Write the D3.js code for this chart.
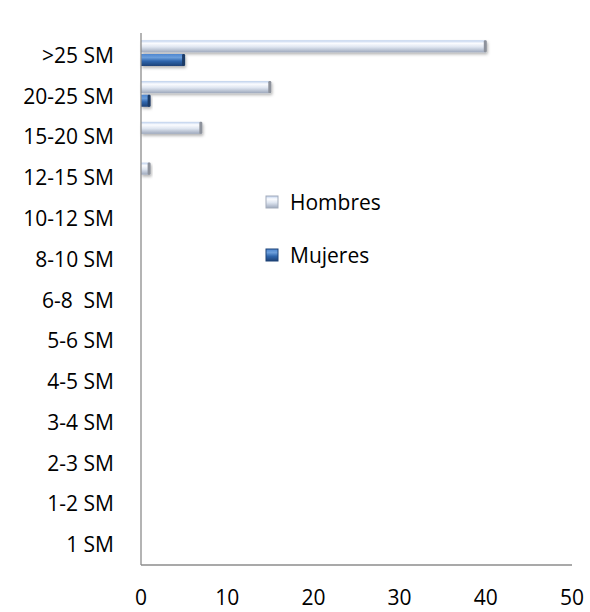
<!DOCTYPE html>
<html>
<head>
<meta charset="utf-8">
<script src="https://cdn.jsdelivr.net/npm/d3@7"></script>
<style>
body{margin:0;background:#fff;}
text{font-family:"Open Sans",sans-serif;fill:#000;}
</style>
</head>
<body>
<svg id="svg" width="590" height="612"></svg>
<script>
var categories=["1 SM","1-2 SM","2-3 SM","3-4 SM","4-5 SM","5-6 SM","6-8  SM","8-10 SM","10-12 SM","12-15 SM","15-20 SM","20-25 SM",">25 SM"];
var hombres=[0,0,0,0,0,0,0,0,0,1,7,15,40];
var mujeres=[0,0,0,0,0,0,0,0,0,0,0,1,5];
var seriesNames=["Hombres","Mujeres"];
var xTicks=[0,10,20,30,40,50];

var marginLeft=141;
var marginTop=35;
var width=572-marginLeft;
var height=565-marginTop;

var root=d3.select("#svg");
var defs=root.append("defs");

//gradients for the bevelled bars
function grad(id,stops){
    var g=defs.append("linearGradient").attr("id",id)
        .attr("x1","0").attr("y1","0").attr("x2","0").attr("y2","1");
    stops.forEach(s=>g.append("stop").attr("offset",s[0]).attr("stop-color",s[1]));
}
grad("gH",[["0%","#bccfec"],["25%","#fbfcff"],["55%","#dfe6f1"],["100%","#9ea9bd"]]);
grad("gM",[["0%","#4d86d0"],["30%","#6c9edb"],["60%","#2f66ad"],["100%","#1d4277"]]);
defs.append("filter").attr("id","shadow")
        .attr("x","-10%").attr("y","-30%").attr("width","130%").attr("height","190%")
    .append("feDropShadow")
        .attr("dx","1").attr("dy","2").attr("stdDeviation","1.5")
        .attr("flood-color","#000").attr("flood-opacity","0.3");

var svg=root.append("g").attr("transform","translate("+marginLeft+","+marginTop+")");

var x=d3.scaleLinear().domain([0,50]).range([0,width]);
var y=d3.scaleBand().domain(categories).range([height,0]);
var ySub=d3.scaleBand().domain(seriesNames)
        .range([y.bandwidth()*0.13,y.bandwidth()*0.76]).paddingInner(0.12);

var rows=categories.map((c,i)=>({cat:c,vals:[{s:"Hombres",v:hombres[i]},{s:"Mujeres",v:mujeres[i]}]}));
var fills={Hombres:"url(#gH)",Mujeres:"url(#gM)"};
var caps={Hombres:"#8d929c",Mujeres:"#1b3a66"};

var groups=svg.selectAll("g.row")
    .data(rows).enter().append("g")
        .attr("class","row")
        .attr("transform",d=>"translate(0,"+y(d.cat)+")");

var bars=groups.selectAll("g.bar")
    .data(d=>d.vals.filter(v=>v.v>0)).enter().append("g")
        .attr("class","bar")
        .attr("filter","url(#shadow)");

bars.append("rect")
        .attr("x",x(0))
        .attr("y",d=>ySub(d.s))
        .attr("width",d=>x(d.v)-x(0))
        .attr("height",ySub.bandwidth())
        .attr("fill",d=>fills[d.s]);

//end face of the 3d bar
bars.append("rect")
        .attr("x",d=>x(d.v)-2)
        .attr("y",d=>ySub(d.s))
        .attr("width",3)
        .attr("height",ySub.bandwidth())
        .attr("rx",1.2)
        .attr("fill",d=>caps[d.s]);

//axes
svg.append("line")
        .attr("x1",x(0)).attr("x2",x(0))
        .attr("y1",-2).attr("y2",height)
        .attr("stroke","#8c8c8c").attr("stroke-width",1.3);
svg.append("line")
        .attr("x1",x(0)).attr("x2",x(50))
        .attr("y1",height).attr("y2",height)
        .attr("stroke","#8c8c8c").attr("stroke-width",1.3);

svg.selectAll("text.cat")
    .data(categories).enter().append("text")
        .attr("class","cat")
        .attr("x",-27)
        .attr("y",d=>y(d)+y.bandwidth()/2)
        .attr("dy","0.36em")
        .attr("text-anchor","end")
        .style("font-size","21px")
        .style("white-space","pre")
        .text(d=>d);

svg.selectAll("text.tick")
    .data(xTicks).enter().append("text")
        .attr("class","tick")
        .attr("x",d=>x(d))
        .attr("y",height+40)
        .attr("text-anchor","middle")
        .style("font-size","21px")
        .text(d=>d);

//legend
var legend=root.append("g").attr("transform","translate(266,196)");
var item=legend.selectAll("g")
    .data(seriesNames).enter().append("g")
        .attr("transform",(d,i)=>"translate(0,"+(i*53)+")");
item.append("rect")
        .attr("width",12).attr("height",12)
        .attr("fill",d=>fills[d])
        .attr("stroke",d=>d=="Hombres"?"#a3acbb":"#1d4277")
        .attr("stroke-width",1);
item.append("text")
        .attr("x",24)
        .attr("y",6)
        .attr("dy","0.36em")
        .style("font-size","21px")
        .text(d=>d);
</script>
</body>
</html>
